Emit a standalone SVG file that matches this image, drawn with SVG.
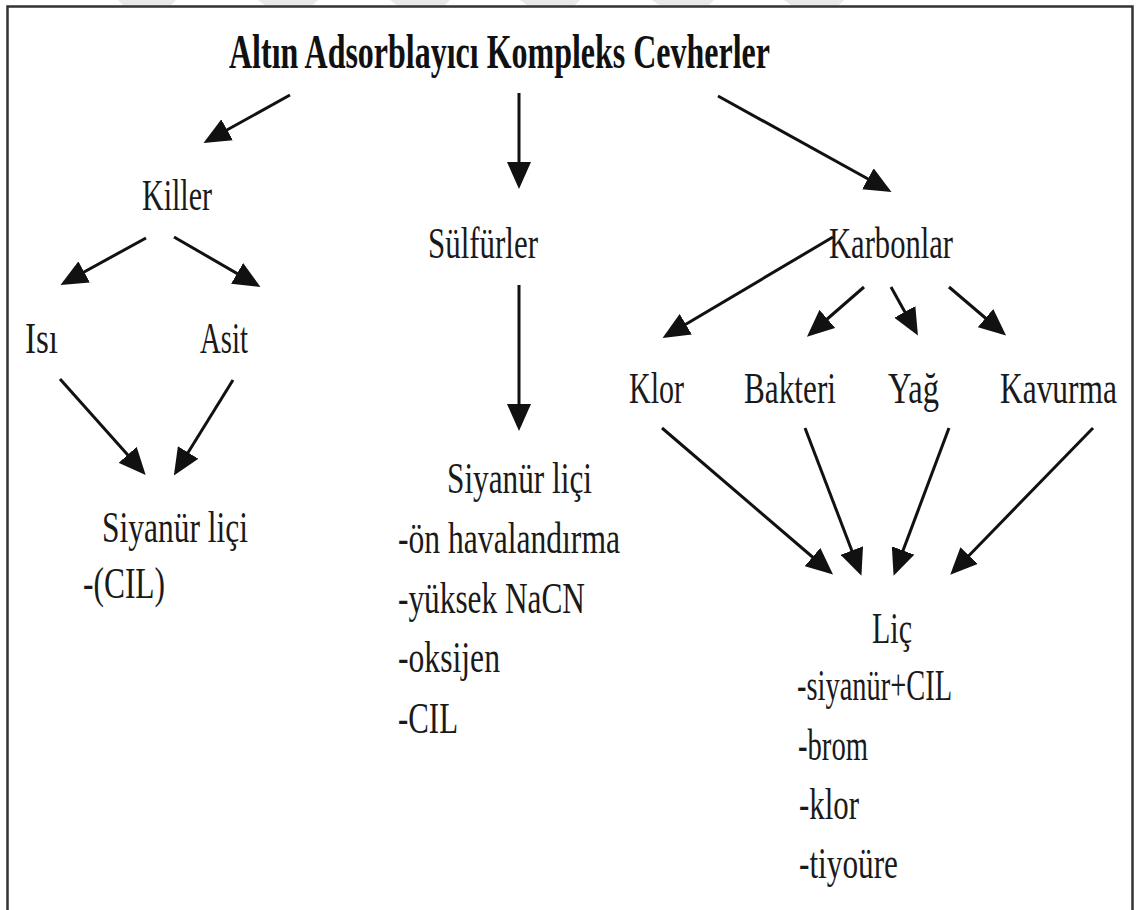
<svg xmlns="http://www.w3.org/2000/svg" width="1137" height="910" viewBox="0 0 1137 910">
<defs>
<style>
.t{font-family:"Liberation Serif","Times New Roman",serif;font-size:45px;fill:#1a1a1a}
.title{font-family:"Liberation Serif","Times New Roman",serif;font-size:48px;font-weight:bold;fill:#111}
.c line{stroke:#111;stroke-width:3;marker-end:url(#ah)}
.wm{fill:#e9e9e9}
</style>
<marker id="ah" markerUnits="userSpaceOnUse" markerWidth="27" markerHeight="24" refX="23" refY="12" orient="auto">
<path d="M0,0 L27,12 L0,24 z" fill="#111"/>
</marker>
</defs>
<rect width="1137" height="910" fill="#fff"/>
<g id="watermark">
<polygon class="wm" points="118,0 176,0 170,6 124,6"/>
<polygon class="wm" points="258,0 318,0 312,6 266,6"/>
<polygon class="wm" points="390,0 450,0 444,6 398,6"/>
<polygon class="wm" points="520,0 580,0 574,6 528,6"/>
<polygon class="wm" points="652,0 714,0 708,6 660,6"/>
<polygon class="wm" points="784,0 844,0 838,6 792,6"/>
</g>
<path id="frame" d="M7.5,910 V6.5 H1132.5 V910" fill="none" stroke="#333" stroke-width="2.5"/>
<g id="title"><text class="title" x="229" y="68" textLength="541" lengthAdjust="spacingAndGlyphs">Altın Adsorblayıcı Kompleks Cevherler</text></g>
<g id="killer"><text class="t" x="142" y="210" textLength="70" lengthAdjust="spacingAndGlyphs">Killer</text></g>
<g id="isi"><text class="t" x="25" y="353" textLength="33" lengthAdjust="spacingAndGlyphs">Isı</text></g>
<g id="asit"><text class="t" x="200" y="353" textLength="48" lengthAdjust="spacingAndGlyphs">Asit</text></g>
<g id="siyanur-left">
<text class="t" x="102" y="542" textLength="146" lengthAdjust="spacingAndGlyphs">Siyanür liçi</text>
<text class="t" x="83" y="598" textLength="82" lengthAdjust="spacingAndGlyphs">-(CIL)</text>
</g>
<g id="sulfurler"><text class="t" x="428" y="258" textLength="110" lengthAdjust="spacingAndGlyphs">Sülfürler</text></g>
<g id="siyanur-mid">
<text class="t" x="447" y="493" textLength="145" lengthAdjust="spacingAndGlyphs">Siyanür liçi</text>
<text class="t" x="398" y="553" textLength="222" lengthAdjust="spacingAndGlyphs">-ön havalandırma</text>
<text class="t" x="398" y="613" textLength="187" lengthAdjust="spacingAndGlyphs">-yüksek NaCN</text>
<text class="t" x="398" y="672" textLength="102" lengthAdjust="spacingAndGlyphs">-oksijen</text>
<text class="t" x="398" y="733" textLength="60" lengthAdjust="spacingAndGlyphs">-CIL</text>
</g>
<g id="karbonlar"><text class="t" x="829" y="258" textLength="124" lengthAdjust="spacingAndGlyphs">Karbonlar</text></g>
<g id="klor"><text class="t" x="629" y="403" textLength="55" lengthAdjust="spacingAndGlyphs">Klor</text></g>
<g id="bakteri"><text class="t" x="744" y="403" textLength="92" lengthAdjust="spacingAndGlyphs">Bakteri</text></g>
<g id="yag"><text class="t" x="888" y="403" textLength="51" lengthAdjust="spacingAndGlyphs">Yağ</text></g>
<g id="kavurma"><text class="t" transform="translate(1000,403) scale(0.7,1)" x="0" y="0" textLength="167" lengthAdjust="spacingAndGlyphs">Kavurma</text></g>
<g id="lic">
<text class="t" x="872" y="643" textLength="40" lengthAdjust="spacingAndGlyphs">Liç</text>
<text class="t" x="797" y="700" textLength="155" lengthAdjust="spacingAndGlyphs">-siyanür+CIL</text>
<text class="t" x="798" y="760" textLength="70" lengthAdjust="spacingAndGlyphs">-brom</text>
<text class="t" x="799" y="819" textLength="60" lengthAdjust="spacingAndGlyphs">-klor</text>
<text class="t" x="799" y="878" textLength="99" lengthAdjust="spacingAndGlyphs">-tiyoüre</text>
</g>
<g id="connectors" class="c">
<line x1="290" y1="95" x2="207" y2="141"/>
<line x1="519" y1="93" x2="519" y2="185"/>
<line x1="718" y1="96" x2="888" y2="190"/>
<line x1="146" y1="238" x2="64" y2="283"/>
<line x1="174" y1="237" x2="257" y2="285"/>
<line x1="60" y1="379" x2="143" y2="472"/>
<line x1="233" y1="380" x2="176" y2="472"/>
<line x1="519" y1="285" x2="519" y2="427"/>
<line x1="833" y1="237" x2="666" y2="336"/>
<line x1="864" y1="287" x2="810" y2="334"/>
<line x1="891" y1="287" x2="916" y2="332"/>
<line x1="949" y1="287" x2="1003" y2="333"/>
<line x1="662" y1="428" x2="830" y2="572"/>
<line x1="805" y1="428" x2="860" y2="572"/>
<line x1="949" y1="428" x2="895" y2="572"/>
<line x1="1093" y1="428" x2="953" y2="572"/>
</g>
</svg>
